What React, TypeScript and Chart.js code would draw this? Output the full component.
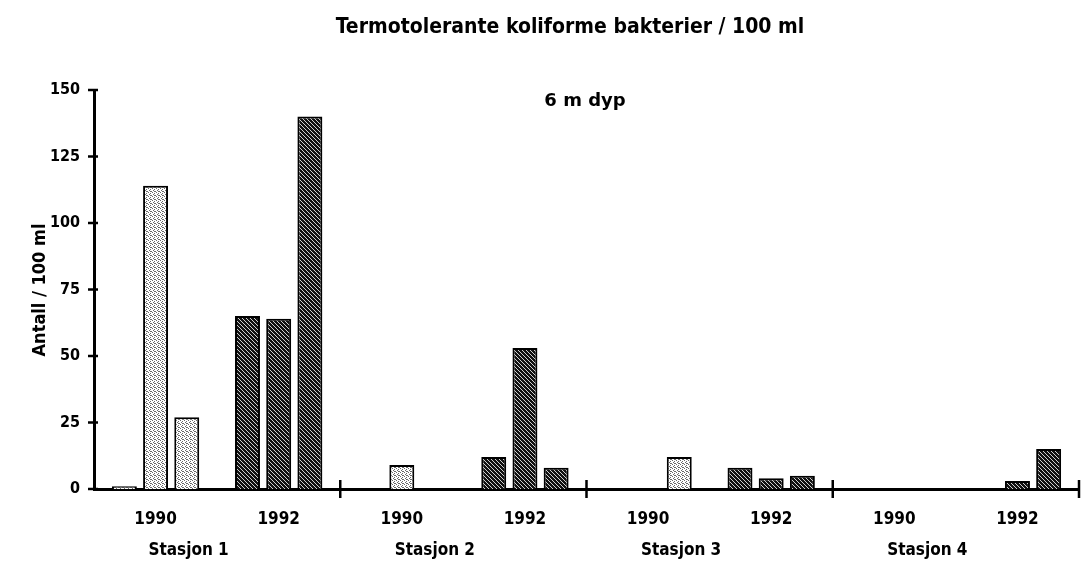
import React, { useEffect, useRef } from "react";
import { Chart, registerables } from "chart.js";

Chart.register(...registerables);

const categories = ["1990", "1992", "1990", "1992", "1990", "1992", "1990", "1992"];
const stations = ["Stasjon 1", "Stasjon 2", "Stasjon 3", "Stasjon 4"];
const seriesA = [1, 65, 0, 12, 0, 8, 0, 0];
const seriesB = [114, 64, 9, 53, 0, 4, 0, 3];
const seriesC = [27, 140, 0, 8, 12, 5, 0, 15];
const yTickValues = [0, 25, 50, 75, 100, 125, 150];
const titleText = "Termotolerante koliforme bakterier / 100 ml";
const yTitle = "Antall / 100 ml";
const noteText = "6 m dyp";

const FONT_C = "'DejaVu Sans Condensed', 'DejaVu Sans', sans-serif";
const FONT_W = "'DejaVu Sans', sans-serif";

function makeDots(): CanvasPattern | string {
  const n = 4;
  const c = document.createElement("canvas");
  c.width = n;
  c.height = n;
  const g = c.getContext("2d")!;
  g.fillStyle = "#ffffff";
  g.fillRect(0, 0, n, n);
  g.fillStyle = "#6a6a6a";
  const pts = [
    [0, 0],
    [2, 1],
    [1, 2],
    [3, 3],
    [2, 3],
  ];
  pts.forEach(([a, b]) => g.fillRect(a, b, 1, 1));
  return g.createPattern(c, "repeat") || "#ddd";
}

function makeHatch(): CanvasPattern | string {
  const n = 4;
  const c = document.createElement("canvas");
  c.width = n;
  c.height = n;
  const g = c.getContext("2d")!;
  g.fillStyle = "#111111";
  g.fillRect(0, 0, n, n);
  g.fillStyle = "#d0d0d0";
  for (let i = 0; i < n; i++) g.fillRect(i, i, 1, 1);
  return g.createPattern(c, "repeat") || "#333";
}

const decorPlugin = {
  id: "decor",
  afterDraw(chart: any) {
    const ctx = chart.ctx;
    const x = chart.scales.x;
    const y = chart.scales.y;
    const area = chart.chartArea;
    const step = x.getPixelForValue(1) - x.getPixelForValue(0);
    ctx.save();
    ctx.strokeStyle = "#000";
    ctx.lineWidth = 2.5;
    yTickValues.forEach((v) => {
      const py = y.getPixelForValue(v);
      ctx.beginPath();
      ctx.moveTo(area.left - 6, py);
      ctx.lineTo(area.left + 4, py);
      ctx.stroke();
    });
    for (let i = 1; i <= stations.length; i++) {
      const sep = x.getPixelForValue(2 * i - 1) + step / 2;
      ctx.beginPath();
      ctx.moveTo(sep, area.bottom - 9);
      ctx.lineTo(sep, area.bottom + 9);
      ctx.stroke();
    }
    ctx.fillStyle = "#000";
    ctx.textAlign = "center";
    ctx.textBaseline = "middle";
    ctx.font = `bold 17px ${FONT_C}`;
    stations.forEach((s, i) => {
      const px = x.getPixelForValue(2 * i) + 33;
      ctx.fillText(s, px, 551);
    });
    ctx.font = `bold 21px ${FONT_C}`;
    ctx.fillText(titleText, 570, 28);
    ctx.font = `bold 18px ${FONT_W}`;
    ctx.fillText(noteText, 585, 101);
    ctx.translate(40, 290);
    ctx.rotate(-Math.PI / 2);
    ctx.font = `bold 18px ${FONT_C}`;
    ctx.fillText(yTitle, 0, 0);
    ctx.restore();
  },
};

export default function App() {
  const ref = useRef<HTMLCanvasElement | null>(null);
  useEffect(() => {
    if (!ref.current) return;
    const dots = makeDots();
    const hatch = makeHatch();
    const fills = categories.map((c) => (c === "1990" ? dots : hatch));
    const mk = (data: number[]) => ({
      data,
      backgroundColor: fills,
      borderColor: "#000",
      borderWidth: 2,
      barPercentage: 0.8,
      categoryPercentage: 0.76,
    });
    const chart = new Chart(ref.current, {
      type: "bar",
      data: {
        labels: categories,
        datasets: [mk(seriesA), mk(seriesB), mk(seriesC)],
      },
      options: {
        responsive: false,
        animation: false,
        layout: { padding: { top: 90, right: 2, left: 0, bottom: 0 } },
        plugins: { legend: { display: false }, tooltip: { enabled: false }, title: { display: false } },
        scales: {
          x: {
            grid: { display: false, drawTicks: false },
            border: { display: true, color: "#000", width: 3 },
            ticks: { color: "#000", font: { family: FONT_C, weight: "bold", size: 17 }, padding: 20, maxRotation: 0 },
            afterFit: (s: any) => {
              s.height = 83;
            },
          },
          y: {
            min: 0,
            max: 150,
            afterBuildTicks: (s: any) => {
              s.ticks = yTickValues.map((v) => ({ value: v }));
            },
            grid: { display: false, drawTicks: false },
            border: { display: true, color: "#000", width: 3 },
            ticks: { color: "#000", font: { family: FONT_C, weight: "bold", size: 16 }, padding: 14 },
            afterFit: (s: any) => {
              s.width = 94;
            },
          },
        },
      },
      plugins: [decorPlugin],
    } as any);
    return () => chart.destroy();
  }, []);
  return (
    <div style={{ position: "fixed", left: 0, top: 0, width: 1081, height: 572, background: "#fff" }}>
      <canvas ref={ref} width={1081} height={572} style={{ width: 1081, height: 572 }} />
    </div>
  );
}
